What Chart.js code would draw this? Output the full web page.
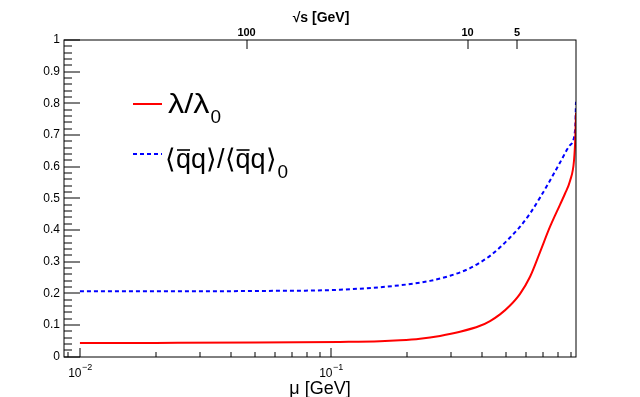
<!DOCTYPE html>
<html>
<head>
<meta charset="utf-8">
<script src="https://cdn.jsdelivr.net/npm/chart.js@4.4.1/dist/chart.umd.min.js"></script>
<style>
html,body{margin:0;padding:0;background:#fff;}
#wrap{width:640px;height:397px;}
</style>
</head>
<body>
<div id="wrap"><canvas id="c" width="640" height="397"></canvas></div>
<script>
// ---- data ----
const muRed   = [0.01, 0.02, 0.05, 0.1086, 0.1567, 0.1883, 0.2262, 0.2718, 0.3265, 0.3924, 0.4300, 0.4713, 0.5166, 0.5662, 0.6206, 0.6802, 0.7455, 0.8173, 0.8557, 0.8959, 0.9292, 0.940, 0.946];
const lambdaRatio = [0.0425, 0.043, 0.044, 0.046, 0.048, 0.051, 0.056, 0.065, 0.078, 0.097, 0.112, 0.133, 0.161, 0.198, 0.252, 0.33, 0.41, 0.48, 0.515, 0.555, 0.62, 0.69, 0.77];
const muBlue  = [0.01, 0.02, 0.05, 0.1086, 0.1883, 0.2479, 0.2979, 0.3579, 0.3924, 0.4300, 0.4713, 0.5166, 0.5662, 0.6206, 0.6802, 0.7455, 0.8173, 0.8959, 0.9383, 0.946];
const condRatio = [0.206, 0.206, 0.207, 0.211, 0.225, 0.239, 0.255, 0.279, 0.297, 0.318, 0.345, 0.376, 0.41, 0.452, 0.502, 0.556, 0.613, 0.668, 0.716, 0.805];

const yTickValues = [0, 0.1, 0.2, 0.3, 0.4, 0.5, 0.6, 0.7, 0.8, 0.9, 1];
const yTickLabels = ['0', '0.1', '0.2', '0.3', '0.4', '0.5', '0.6', '0.7', '0.8', '0.9', '1'];
const xMajorValues = [0.01, 0.1];
const xMajorExponents = ['\u22122', '\u22121'];
const topTickMu = [0.0461, 0.350, 0.551];
const topTickLabels = ['100', '10', '5'];

const FONT = '"Liberation Sans", Arial, Helvetica, sans-serif';

const rootAxes = {
  id: 'rootAxes',
  afterDraw(chart) {
    const ctx = chart.ctx;
    const a = chart.chartArea;
    const x = chart.scales.x, y = chart.scales.y;
    ctx.save();
    ctx.strokeStyle = '#000';
    ctx.fillStyle = '#000';
    ctx.lineWidth = 1;
    // frame
    ctx.strokeRect(Math.round(a.left), Math.round(a.top), Math.round(a.right - a.left), Math.round(a.bottom - a.top));
    const L = Math.round(a.left), B = Math.round(a.bottom), T = Math.round(a.top);
    // y ticks
    ctx.beginPath();
    for (let i = 0; i < yTickValues.length; i++) {
      const py = Math.round(y.getPixelForValue(yTickValues[i]));
      ctx.moveTo(L, py); ctx.lineTo(L + 16, py);
      if (i < yTickValues.length - 1) {
        const step = (yTickValues[i + 1] - yTickValues[i]) / 5;
        for (let k = 1; k < 5; k++) {
          const pm = Math.round(y.getPixelForValue(yTickValues[i] + k * step));
          ctx.moveTo(L, pm); ctx.lineTo(L + 8, pm);
        }
      }
    }
    ctx.stroke();
    ctx.font = '12px ' + FONT;
    ctx.textAlign = 'right';
    ctx.textBaseline = 'middle';
    for (let i = 0; i < yTickValues.length; i++) {
      ctx.fillText(yTickLabels[i], L - 4, y.getPixelForValue(yTickValues[i]));
    }
    // x bottom ticks
    ctx.beginPath();
    for (const d of [0.001, 0.01, 0.1]) {
      for (let k = 1; k <= 9; k++) {
        const v = k * d;
        if (v < x.min || v > x.max) continue;
        const px = Math.round(x.getPixelForValue(v));
        const len = (k === 1) ? 9 : 5;
        ctx.moveTo(px, B); ctx.lineTo(px, B - len);
      }
    }
    ctx.stroke();
    // x bottom labels 10^n
    ctx.textBaseline = 'alphabetic';
    for (let i = 0; i < xMajorValues.length; i++) {
      const px = x.getPixelForValue(xMajorValues[i]);
      ctx.font = '12px ' + FONT;
      ctx.textAlign = 'left';
      const w1 = ctx.measureText('10').width;
      ctx.font = '9px ' + FONT;
      const w2 = ctx.measureText(xMajorExponents[i]).width;
      const start = px - (w1 + w2) / 2;
      ctx.font = '12px ' + FONT;
      ctx.fillText('10', start, 377);
      ctx.font = '9px ' + FONT;
      ctx.fillText(xMajorExponents[i], start + w1 + 0.5, 370);
    }
    // top ticks
    ctx.beginPath();
    for (const v of topTickMu) {
      const px = Math.round(x.getPixelForValue(v));
      ctx.moveTo(px, T); ctx.lineTo(px, T + 9);
    }
    ctx.stroke();
    ctx.font = 'bold 11px ' + FONT;
    ctx.textAlign = 'center';
    ctx.textBaseline = 'alphabetic';
    for (let i = 0; i < topTickMu.length; i++) {
      ctx.fillText(topTickLabels[i], x.getPixelForValue(topTickMu[i]), 36);
    }
    // axis titles
    const cx = (a.left + a.right) / 2;
    ctx.font = 'bold 14px ' + FONT;
    ctx.fillText('\u221As [GeV]', cx + 1, 22);
    ctx.font = '18px ' + FONT;
    ctx.fillText('\u03BC [GeV]', cx, 394);
    // legend
    ctx.lineWidth = 2;
    ctx.strokeStyle = '#ff0000';
    ctx.setLineDash([]);
    ctx.beginPath(); ctx.moveTo(133, 104); ctx.lineTo(162, 104); ctx.stroke();
    ctx.strokeStyle = '#0000ff';
    ctx.setLineDash([4, 3]);
    ctx.beginPath(); ctx.moveTo(133, 154); ctx.lineTo(162, 154); ctx.stroke();
    ctx.setLineDash([]);
    ctx.fillStyle = '#000';
    ctx.textAlign = 'left';
    const big = '27px ' + FONT, sub = '19px ' + FONT;
    ctx.font = big;
    const lw = ctx.measureText('\u03BB/\u03BB').width;
    ctx.save();
    ctx.translate(168, 113);
    ctx.scale(1.2, 1);
    ctx.fillText('\u03BB/\u03BB', 0, 0);
    ctx.restore();
    let wx = 168 + lw * 1.2 + 1;
    ctx.font = sub;
    ctx.fillText('0', wx, 123);
    // second entry
    let px2 = 165; const by = 168;
    ctx.font = big;
    ctx.strokeStyle = '#000';
    ctx.lineWidth = 1.6;
    const parts = [['\u27E8', false], ['q', true], ['q\u27E9/\u27E8', false], ['q', true], ['q\u27E9', false]];
    for (const [s, over] of parts) {
      const w = ctx.measureText(s).width;
      ctx.fillText(s, px2, by);
      if (over) {
        ctx.beginPath(); ctx.moveTo(px2 + 1, by - 18); ctx.lineTo(px2 + w - 1, by - 18); ctx.stroke();
      }
      px2 += w;
    }
    ctx.font = sub;
    ctx.fillText('0', px2 + 1, by + 10);
    ctx.restore();
  }
};

const toPts = (xs, ys) => xs.map((v, i) => ({x: v, y: ys[i]}));

new Chart(document.getElementById('c'), {
  type: 'line',
  data: {
    datasets: [
      {label: '\u03BB/\u03BB0', data: toPts(muRed, lambdaRatio), borderColor: '#ff0000', borderWidth: 2, pointRadius: 0, cubicInterpolationMode: 'monotone', fill: false},
      {label: '\u27E8qq\u27E9/\u27E8qq\u27E90', data: toPts(muBlue, condRatio), borderColor: '#0000ff', borderWidth: 2, borderDash: [4, 3], pointRadius: 0, cubicInterpolationMode: 'monotone', fill: false}
    ]
  },
  options: {
    responsive: false,
    animation: false,
    devicePixelRatio: 1,
    layout: {padding: {left: 64, right: 64, top: 40, bottom: 40.5}},
    plugins: {legend: {display: false}, tooltip: {enabled: false}},
    scales: {
      x: {type: 'logarithmic', min: 0.00864, max: 0.946, display: false},
      y: {type: 'linear', min: 0, max: 1, display: false}
    }
  },
  plugins: [rootAxes]
});
</script>
</body>
</html>
